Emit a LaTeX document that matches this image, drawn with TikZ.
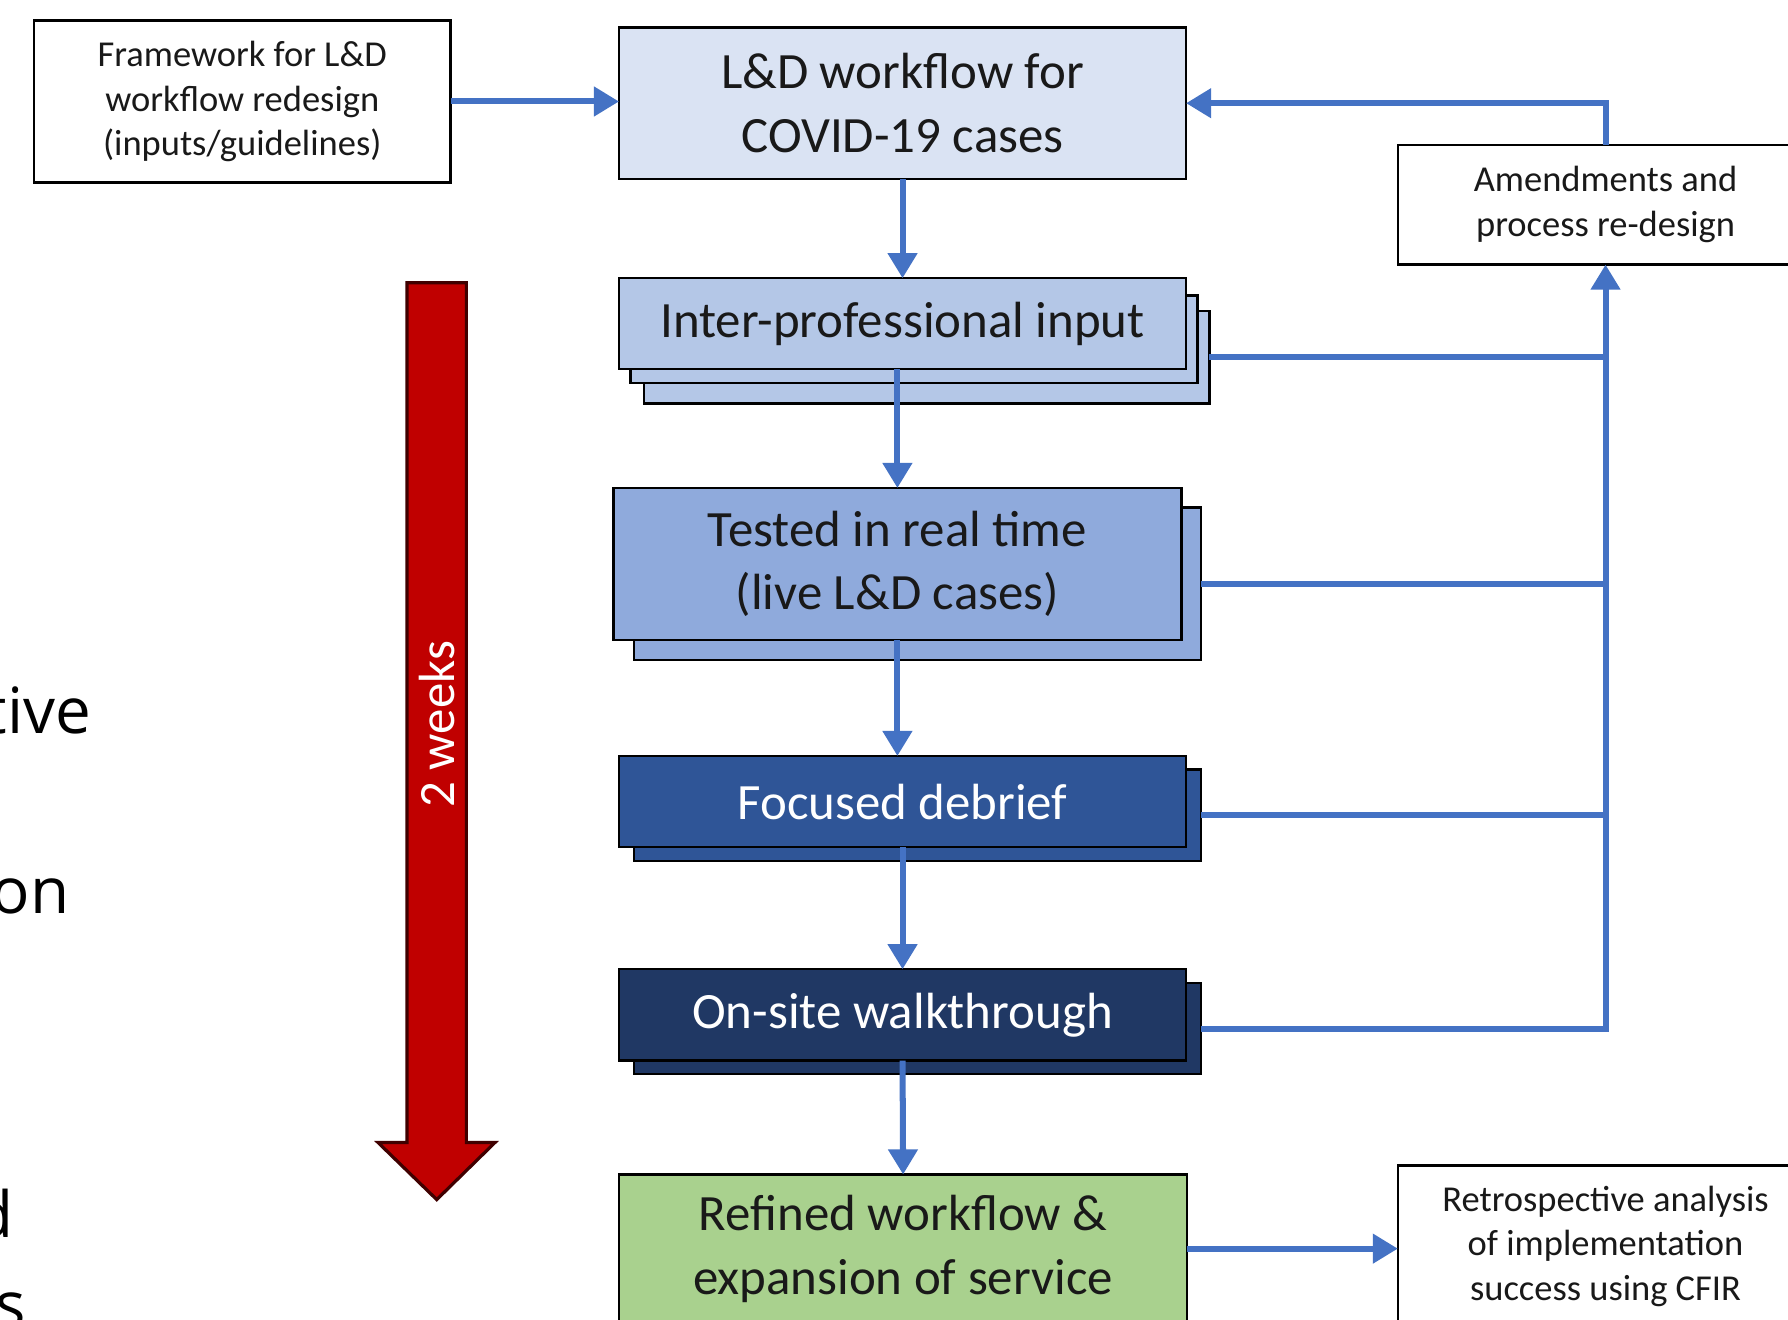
\documentclass[tikz,border=0pt]{standalone}
\usepackage{fontspec}
\setmainfont{Carlito}
\newfontfamily\osans{Open Sans}
\usetikzlibrary{arrows.meta}
\definecolor{ldfill}{HTML}{DAE3F3}
\definecolor{ipfill}{HTML}{B4C7E7}
\definecolor{trfill}{HTML}{8FAADC}
\definecolor{fdfill}{HTML}{2F5597}
\definecolor{osfill}{HTML}{203864}
\definecolor{rffill}{HTML}{A9D18E}
\definecolor{arrowblue}{HTML}{4472C4}
\definecolor{redarrow}{HTML}{C00000}
\begin{document}
\begin{tikzpicture}[x=0.01cm,y=-0.01cm,
  bx/.style={draw=black, line width=0.6pt, inner sep=0pt, outer sep=0pt, align=center, text=black!90},
  big/.style={font=\fontsize{12.69}{15.93}\selectfont},
  small/.style={font=\fontsize{9.1}{11.1}\selectfont},
  frag/.style={anchor=base east, inner sep=0pt, font=\osans\fontsize{15.9}{19}\selectfont},
  conn/.style={draw=arrowblue, line width=1.5pt, -{Triangle[length=0.22cm,width=0.25cm]}},
  fb/.style={draw=arrowblue, line width=1.5pt},
]
\useasboundingbox (0,0) rectangle (1568,1157);
\clip (0,0) rectangle (1568,1157);
\fill[white] (0,0) rectangle (1568,1157);

% cropped text at left edge
\node[frag] (fa) at (80.7,643) {tive};
\node[frag] (fb1) at (61.4,801.5) {on};
\node[frag] (fc) at (12.3,1085) {d};
\node[frag] (fd) at (23,1164) {s};

% red time arrow
\filldraw[fill=redarrow, draw=black!75!red, line width=0.8pt]
  (357,248) -- (409,248) -- (409,1002) -- (434,1002) -- (383,1052)
  -- (331.6,1002) -- (357,1002) -- cycle;
\node[rotate=90, text=white, big, inner sep=0pt] (weeks) at (383,635) {2 weeks};

% boxes
\node[bx, small, minimum width=3.65cm, minimum height=1.42cm] (fw) at (212.5,89)
  {Framework for L\&D\\workflow redesign\\(inputs/guidelines)};
\node[bx, big, fill=ldfill, minimum width=4.97cm, minimum height=1.33cm] (ld) at (791.5,90.5)
  {L\&D workflow for\\COVID-19 cases};

\node[bx, fill=ipfill, minimum width=4.955cm, minimum height=0.81cm] (ip3) at (812.75,313.5) {};
\node[bx, fill=ipfill, minimum width=4.97cm, minimum height=0.77cm] (ip2) at (801.5,297.5) {};
\node[bx, big, fill=ipfill, minimum width=4.97cm, minimum height=0.796cm] (ip1) at (791.5,283.8)
  {Inter-professional input};

\node[bx, fill=trfill, minimum width=4.97cm, minimum height=1.34cm] (tr2) at (804.5,512) {};
\node[bx, big, fill=trfill, minimum width=4.98cm, minimum height=1.33cm] (tr1) at (787,494.5)
  {Tested in real time\\(live L\&D cases)};

\node[bx, fill=fdfill, minimum width=4.97cm, minimum height=0.80cm] (fd2) at (804.5,715) {};
\node[bx, big, fill=fdfill, text=white, minimum width=4.97cm, minimum height=0.80cm] (fd1) at (791.5,703)
  {Focused debrief};

\node[bx, fill=osfill, minimum width=4.97cm, minimum height=0.80cm] (os2) at (804.5,902) {};
\node[bx, big, fill=osfill, text=white, minimum width=4.97cm, minimum height=0.80cm] (os1) at (791.5,890)
  {On-site walkthrough};

\node[bx, big, fill=rffill, minimum width=4.98cm, minimum height=1.30cm] (rf) at (792,1095)
  {Refined workflow \&\\expansion of service};

\node[bx, small, minimum width=3.64cm, minimum height=1.42cm] (rt) at (1408,1093)
  {Retrospective analysis\\of implementation\\success using CFIR};
\node[bx, small, minimum width=3.64cm, minimum height=1.05cm] (am) at (1408,179.5)
  {Amendments and\\process re-design};

% main flow connectors
\draw[conn] (fw.east) -- (fw.east -| ld.west);
\draw[conn] (ld.south) -- (ip1.north);
\draw[conn] (ip1.south -| tr1.north) -- (tr1.north);
\draw[conn] (tr1.south) -- (tr1.south |- fd1.north);
\draw[conn] (fd1.south) -- (os1.north);
\draw[conn] (os1.south) -- (rf.north);
\draw[conn] (rf.east) -- (rf.east -| rt.west);

% feedback loop
\draw[fb] (ip3.east) -- (ip3.east -| am.south);
\draw[fb] (tr2.east) -- (tr2.east -| am.south);
\draw[fb] (fd2.east) -- (fd2.east -| am.south);
\draw[conn] (os2.east) -| (am.south);
\draw[conn] (am.north) |- (ld.east);
\end{tikzpicture}
\end{document}
